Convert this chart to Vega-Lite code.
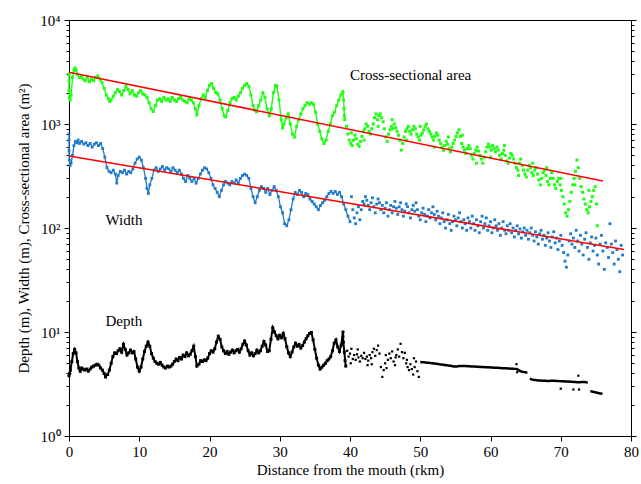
{
"$schema":"https://vega.github.io/schema/vega-lite/v6.json",
"width":562,"height":416,
"autosize":{"type":"none"},
"padding":{"left":69,"top":20,"right":10,"bottom":48},
"background":"white",
"config":{"font":"Liberation Serif","view":{"stroke":"black","strokeWidth":1},
"axis":{"grid":false,"domainColor":"black","tickColor":"black","labelColor":"black","titleColor":"black","labelFont":"Liberation Serif","titleFont":"Liberation Serif","labelFontSize":15,"titleFontSize":15,"titleFontWeight":"normal","domainWidth":1,"tickWidth":1}},
"datasets":{
"area":[{"x":0,"y":3000},{"x":0,"y":2600},{"x":0,"y":2100},{"x":0.1,"y":1800},{"x":0.15,"y":1700},{"x":0.3,"y":1900},{"x":0.5,"y":2800},{"x":0.7,"y":3300},{"x":0.85,"y":3450},{"x":1.0,"y":3300},{"x":1.2,"y":3000},{"x":1.5,"y":2800},{"x":1.8,"y":2900},{"x":2.0,"y":2700},{"x":2.3,"y":2600},{"x":2.6,"y":2800},{"x":2.9,"y":2550},{"x":3.2,"y":2700},{"x":3.5,"y":2600},{"x":3.8,"y":2800},{"x":4.1,"y":2900},{"x":4.4,"y":2700},{"x":4.7,"y":2500},{"x":5.0,"y":2200},{"x":5.3,"y":1900},{"x":5.6,"y":1750},{"x":5.8,"y":1650},{"x":6.0,"y":1700},{"x":6.3,"y":1850},{"x":6.6,"y":2000},{"x":6.9,"y":2150},{"x":7.2,"y":2050},{"x":7.5,"y":1900},{"x":7.8,"y":2100},{"x":8.1,"y":2300},{"x":8.4,"y":2150},{"x":8.7,"y":1950},{"x":9.0,"y":2100},{"x":9.3,"y":1900},{"x":9.6,"y":1850},{"x":9.9,"y":2000},{"x":10.2,"y":2100},{"x":10.5,"y":1950},{"x":10.8,"y":1900},{"x":11.1,"y":1800},{"x":11.4,"y":1600},{"x":11.7,"y":1400},{"x":12.0,"y":1320},{"x":12.3,"y":1500},{"x":12.6,"y":1700},{"x":12.9,"y":1750},{"x":13.2,"y":1650},{"x":13.5,"y":1800},{"x":13.8,"y":1700},{"x":14.1,"y":1750},{"x":14.4,"y":1650},{"x":14.7,"y":1800},{"x":15.0,"y":1700},{"x":15.3,"y":1650},{"x":15.6,"y":1750},{"x":15.9,"y":1800},{"x":16.2,"y":1700},{"x":16.5,"y":1650},{"x":16.8,"y":1600},{"x":17.1,"y":1750},{"x":17.4,"y":1700},{"x":17.7,"y":1600},{"x":18.0,"y":1400},{"x":18.2,"y":1220},{"x":18.5,"y":1500},{"x":18.8,"y":1750},{"x":19.1,"y":1900},{"x":19.4,"y":1800},{"x":19.7,"y":2100},{"x":20.0,"y":2350},{"x":20.3,"y":2450},{"x":20.6,"y":2200},{"x":20.9,"y":2000},{"x":21.2,"y":1950},{"x":21.5,"y":1700},{"x":21.8,"y":1400},{"x":22.1,"y":1200},{"x":22.3,"y":1170},{"x":22.6,"y":1350},{"x":22.9,"y":1600},{"x":23.2,"y":1750},{"x":23.5,"y":1800},{"x":23.8,"y":1700},{"x":24.1,"y":1850},{"x":24.4,"y":2000},{"x":24.7,"y":2200},{"x":25.0,"y":2350},{"x":25.3,"y":2450},{"x":25.6,"y":2300},{"x":25.9,"y":1900},{"x":26.2,"y":1500},{"x":26.5,"y":1350},{"x":26.7,"y":1310},{"x":27.0,"y":1500},{"x":27.3,"y":1700},{"x":27.6,"y":2000},{"x":27.9,"y":1800},{"x":28.2,"y":1400},{"x":28.5,"y":1200},{"x":28.8,"y":1400},{"x":29.1,"y":2000},{"x":29.4,"y":2350},{"x":29.6,"y":2300},{"x":29.9,"y":1700},{"x":30.2,"y":1100},{"x":30.4,"y":920},{"x":30.6,"y":1000},{"x":30.9,"y":1150},{"x":31.2,"y":1250},{"x":31.5,"y":1000},{"x":31.8,"y":800},{"x":32.1,"y":750},{"x":32.4,"y":950},{"x":32.7,"y":1100},{"x":33.0,"y":1250},{"x":33.3,"y":1400},{"x":33.6,"y":1500},{"x":33.9,"y":1600},{"x":34.2,"y":1550},{"x":34.5,"y":1600},{"x":34.8,"y":1550},{"x":35.1,"y":1300},{"x":35.4,"y":1000},{"x":35.7,"y":850},{"x":36.0,"y":720},{"x":36.3,"y":650},{"x":36.6,"y":700},{"x":36.9,"y":850},{"x":37.2,"y":1000},{"x":37.5,"y":1200},{"x":37.8,"y":1300},{"x":38.1,"y":1500},{"x":38.4,"y":1700},{"x":38.7,"y":1900},{"x":39.0,"y":2050},{"x":39.1,"y":1700},{"x":39.15,"y":1400},{"x":39.2,"y":1200},{"x":39.25,"y":1100},
{"x":39.5,"y":950},{"x":39.7,"y":800},{"x":39.9,"y":700},{"x":40.1,"y":650},{"x":40.3,"y":620},{"x":40.5,"y":700},{"x":40.7,"y":780},{"x":40.9,"y":720},{"x":41.1,"y":640},{"x":41.3,"y":610},{"x":41.5,"y":680},{"x":41.7,"y":760},{"x":41.9,"y":850},{"x":42.1,"y":900},{"x":42.3,"y":1000},{"x":42.5,"y":950},{"x":42.7,"y":850},{"x":42.9,"y":800},{"x":43.1,"y":900},{"x":43.3,"y":1000},{"x":43.5,"y":1150},{"x":43.7,"y":1250},{"x":43.9,"y":1100},{"x":44.1,"y":1200},{"x":44.3,"y":1250},{"x":44.5,"y":1150},{"x":44.7,"y":1050},{"x":44.9,"y":900},{"x":45.1,"y":750},{"x":45.3,"y":680},{"x":45.5,"y":800},{"x":45.7,"y":880},{"x":45.9,"y":950},{"x":46.1,"y":900},{"x":46.3,"y":1000},{"x":46.5,"y":920},{"x":46.7,"y":850},{"x":46.9,"y":780},{"x":47.1,"y":700},{"x":47.3,"y":560},{"x":47.5,"y":650},{"x":47.7,"y":750},{"x":47.9,"y":850},{"x":48.1,"y":900},{"x":48.3,"y":950},{"x":48.5,"y":850},{"x":48.7,"y":800},{"x":48.9,"y":880},{"x":49.1,"y":950},{"x":49.3,"y":900},{"x":49.5,"y":800},{"x":49.7,"y":750},{"x":49.9,"y":700},{"x":50.1,"y":780},{"x":50.3,"y":820},{"x":50.5,"y":880},{"x":50.7,"y":950},{"x":50.9,"y":1000},{"x":51.1,"y":900},{"x":51.3,"y":850},{"x":51.5,"y":800},{"x":51.7,"y":750},{"x":51.9,"y":700},{"x":52.1,"y":760},{"x":52.3,"y":820},{"x":52.5,"y":780},{"x":52.7,"y":700},{"x":52.9,"y":650},{"x":53.1,"y":600},{"x":53.3,"y":560},{"x":53.5,"y":620},{"x":53.7,"y":680},{"x":53.9,"y":640},{"x":54.1,"y":580},{"x":54.3,"y":540},{"x":54.5,"y":600},{"x":54.7,"y":650},{"x":54.9,"y":700},{"x":55.1,"y":760},{"x":55.3,"y":820},{"x":55.5,"y":880},{"x":55.7,"y":760},{"x":55.9,"y":650},{"x":56.1,"y":600},{"x":56.3,"y":560},{"x":56.5,"y":520},{"x":56.7,"y":580},{"x":56.9,"y":620},{"x":57.1,"y":580},{"x":57.3,"y":500},{"x":57.5,"y":460},{"x":57.7,"y":520},{"x":57.9,"y":560},{"x":58.1,"y":600},{"x":58.3,"y":550},{"x":58.5,"y":500},{"x":58.7,"y":460},{"x":58.9,"y":420},{"x":59.1,"y":480},{"x":59.3,"y":540},{"x":59.5,"y":600},{"x":59.7,"y":640},{"x":59.9,"y":600},{"x":60.1,"y":560},{"x":60.3,"y":620},{"x":60.5,"y":580},{"x":60.7,"y":540},{"x":60.9,"y":600},{"x":61.1,"y":560},{"x":61.3,"y":500},{"x":61.5,"y":460},{"x":61.7,"y":520},{"x":61.9,"y":560},{"x":62.1,"y":500},{"x":62.3,"y":440},{"x":62.5,"y":420},{"x":62.7,"y":470},{"x":62.9,"y":520},{"x":63.1,"y":500},{"x":63.3,"y":460},{"x":63.5,"y":420},{"x":63.7,"y":380},{"x":63.9,"y":360},{"x":64.1,"y":420},{"x":64.3,"y":460},{"x":64.5,"y":400},{"x":64.7,"y":360},{"x":64.9,"y":330},{"x":65.1,"y":310},{"x":65.3,"y":360},{"x":65.5,"y":400},{"x":65.7,"y":380},{"x":65.9,"y":340},{"x":66.1,"y":320},{"x":66.3,"y":360},{"x":66.5,"y":380},{"x":66.7,"y":330},{"x":66.9,"y":290},{"x":67.1,"y":260},{"x":67.3,"y":300},{"x":67.5,"y":340},{"x":67.7,"y":360},{"x":67.9,"y":320},{"x":68.1,"y":280},{"x":68.3,"y":260},{"x":68.5,"y":300},{"x":68.7,"y":340},{"x":68.9,"y":300},{"x":69.1,"y":260},{"x":69.3,"y":240},{"x":69.5,"y":280},{"x":69.7,"y":300},{"x":69.9,"y":260},{"x":70.1,"y":230},{"x":70.3,"y":200},{"x":70.5,"y":170},{"x":70.7,"y":140},{"x":70.9,"y":130},{"x":71.1,"y":150},{"x":71.3,"y":180},{"x":71.5,"y":220},{"x":71.7,"y":260},{"x":71.9,"y":300},{"x":72.1,"y":350},{"x":72.3,"y":450},{"x":72.5,"y":380},{"x":72.7,"y":300},{"x":72.9,"y":250},{"x":73.1,"y":220},{"x":73.3,"y":190},{"x":73.5,"y":170},{"x":73.7,"y":150},{"x":73.9,"y":140},{"x":74.1,"y":160},{"x":74.3,"y":180},{"x":74.5,"y":200},{"x":74.7,"y":230},{"x":74.9,"y":250},{"x":75.1,"y":170},{"x":75.2,"y":105},
{"x":40.2,"y":820},{"x":42.0,"y":700},{"x":44.0,"y":950},{"x":46.0,"y":1100},{"x":48.0,"y":700},{"x":50.0,"y":950},{"x":52.0,"y":600},{"x":54.0,"y":750},{"x":56.0,"y":780},{"x":58.0,"y":420},{"x":60.0,"y":480},{"x":62.0,"y":620},{"x":64.0,"y":320},{"x":66.0,"y":420},{"x":68.0,"y":380},{"x":70.0,"y":300},{"x":72.0,"y":260},{"x":74.0,"y":230}],
"width":[{"x":0,"y":800},{"x":0,"y":700},{"x":0,"y":550},{"x":0.05,"y":450},{"x":0.15,"y":400},{"x":0.3,"y":420},{"x":0.5,"y":500},{"x":0.7,"y":620},{"x":0.9,"y":680},{"x":1.1,"y":660},{"x":1.3,"y":700},{"x":1.5,"y":650},{"x":1.8,"y":680},{"x":2.1,"y":640},{"x":2.4,"y":660},{"x":2.7,"y":620},{"x":3.0,"y":650},{"x":3.3,"y":600},{"x":3.6,"y":640},{"x":3.9,"y":660},{"x":4.2,"y":620},{"x":4.5,"y":650},{"x":4.8,"y":580},{"x":5.1,"y":480},{"x":5.4,"y":380},{"x":5.7,"y":350},{"x":6.0,"y":340},{"x":6.3,"y":360},{"x":6.6,"y":330},{"x":6.8,"y":270},{"x":7.0,"y":320},{"x":7.3,"y":350},{"x":7.6,"y":340},{"x":7.9,"y":360},{"x":8.2,"y":330},{"x":8.5,"y":350},{"x":8.8,"y":340},{"x":9.1,"y":370},{"x":9.4,"y":420},{"x":9.7,"y":460},{"x":10.0,"y":480},{"x":10.3,"y":450},{"x":10.6,"y":380},{"x":10.9,"y":300},{"x":11.1,"y":240},{"x":11.3,"y":215},{"x":11.5,"y":260},{"x":11.8,"y":300},{"x":12.1,"y":360},{"x":12.4,"y":380},{"x":12.7,"y":350},{"x":13.0,"y":370},{"x":13.3,"y":390},{"x":13.6,"y":360},{"x":13.9,"y":380},{"x":14.2,"y":370},{"x":14.5,"y":350},{"x":14.8,"y":380},{"x":15.1,"y":360},{"x":15.4,"y":340},{"x":15.7,"y":360},{"x":16.0,"y":330},{"x":16.3,"y":300},{"x":16.6,"y":280},{"x":16.9,"y":320},{"x":17.2,"y":300},{"x":17.5,"y":280},{"x":17.8,"y":300},{"x":18.1,"y":270},{"x":18.4,"y":300},{"x":18.7,"y":330},{"x":19.0,"y":360},{"x":19.3,"y":380},{"x":19.6,"y":370},{"x":19.9,"y":340},{"x":20.2,"y":300},{"x":20.5,"y":260},{"x":20.8,"y":240},{"x":21.1,"y":220},{"x":21.4,"y":200},{"x":21.7,"y":230},{"x":22.0,"y":260},{"x":22.3,"y":280},{"x":22.6,"y":270},{"x":22.9,"y":260},{"x":23.2,"y":280},{"x":23.5,"y":270},{"x":23.8,"y":290},{"x":24.1,"y":270},{"x":24.4,"y":300},{"x":24.7,"y":320},{"x":25.0,"y":330},{"x":25.3,"y":320},{"x":25.6,"y":300},{"x":25.9,"y":240},{"x":26.2,"y":200},{"x":26.5,"y":175},{"x":26.8,"y":200},{"x":27.1,"y":230},{"x":27.4,"y":250},{"x":27.7,"y":240},{"x":28.0,"y":220},{"x":28.3,"y":240},{"x":28.6,"y":210},{"x":28.9,"y":230},{"x":29.2,"y":250},{"x":29.5,"y":230},{"x":29.8,"y":200},{"x":30.1,"y":160},{"x":30.4,"y":140},{"x":30.7,"y":110},{"x":31.0,"y":105},{"x":31.3,"y":120},{"x":31.6,"y":150},{"x":31.9,"y":190},{"x":32.2,"y":220},{"x":32.5,"y":210},{"x":32.8,"y":230},{"x":33.1,"y":220},{"x":33.4,"y":200},{"x":33.7,"y":215},{"x":34.0,"y":210},{"x":34.3,"y":190},{"x":34.6,"y":180},{"x":34.9,"y":170},{"x":35.2,"y":160},{"x":35.5,"y":150},{"x":35.8,"y":165},{"x":36.1,"y":175},{"x":36.4,"y":185},{"x":36.7,"y":200},{"x":37.0,"y":215},{"x":37.3,"y":225},{"x":37.6,"y":215},{"x":37.9,"y":225},{"x":38.2,"y":210},{"x":38.5,"y":220},{"x":38.8,"y":200},{"x":39.1,"y":170},{"x":39.4,"y":150},{"x":39.7,"y":130},{"x":40.0,"y":115},
{"x":40.2,"y":200},{"x":40.4,"y":150},{"x":40.6,"y":125},{"x":40.8,"y":110},{"x":41.0,"y":140},{"x":41.2,"y":160},{"x":41.4,"y":120},{"x":41.6,"y":150},{"x":41.8,"y":180},{"x":42.0,"y":170},{"x":42.2,"y":200},{"x":42.4,"y":185},{"x":42.6,"y":165},{"x":42.8,"y":150},{"x":43.0,"y":175},{"x":43.2,"y":195},{"x":43.4,"y":160},{"x":43.6,"y":140},{"x":43.8,"y":170},{"x":44.0,"y":190},{"x":44.2,"y":175},{"x":44.4,"y":150},{"x":44.6,"y":165},{"x":44.8,"y":140},{"x":45.0,"y":155},{"x":45.2,"y":175},{"x":45.4,"y":130},{"x":45.6,"y":150},{"x":45.8,"y":165},{"x":46.0,"y":140},{"x":46.2,"y":160},{"x":46.4,"y":180},{"x":46.6,"y":155},{"x":46.8,"y":135},{"x":47.0,"y":160},{"x":47.2,"y":175},{"x":47.4,"y":150},{"x":47.6,"y":130},{"x":47.8,"y":145},{"x":48.0,"y":170},{"x":48.2,"y":160},{"x":48.4,"y":140},{"x":48.6,"y":125},{"x":48.8,"y":150},{"x":49.0,"y":165},{"x":49.2,"y":145},{"x":49.4,"y":175},{"x":49.6,"y":150},{"x":49.8,"y":130},{"x":50.0,"y":120},{"x":50.2,"y":140},{"x":50.4,"y":155},{"x":50.6,"y":135},{"x":50.8,"y":115},{"x":51.0,"y":130},{"x":51.2,"y":150},{"x":51.4,"y":125},{"x":51.6,"y":140},{"x":51.8,"y":160},{"x":52.0,"y":135},{"x":52.2,"y":120},{"x":52.4,"y":145},{"x":52.6,"y":130},{"x":52.8,"y":110},{"x":53.0,"y":125},{"x":53.2,"y":140},{"x":53.4,"y":115},{"x":53.6,"y":100},{"x":53.8,"y":120},{"x":54.0,"y":135},{"x":54.2,"y":110},{"x":54.4,"y":95},{"x":54.6,"y":115},{"x":54.8,"y":130},{"x":55.0,"y":120},{"x":55.2,"y":105},{"x":55.4,"y":125},{"x":55.6,"y":140},{"x":55.8,"y":115},{"x":56.0,"y":100},{"x":56.2,"y":120},{"x":56.4,"y":110},{"x":56.6,"y":95},{"x":56.8,"y":125},{"x":57.0,"y":115},{"x":57.2,"y":100},{"x":57.4,"y":130},{"x":57.6,"y":110},{"x":57.8,"y":95},{"x":58.0,"y":120},{"x":58.2,"y":105},{"x":58.4,"y":90},{"x":58.6,"y":115},{"x":58.8,"y":130},{"x":59.0,"y":100},{"x":59.2,"y":110},{"x":59.4,"y":125},{"x":59.6,"y":95},{"x":59.8,"y":105},{"x":60.0,"y":115},{"x":60.2,"y":90},{"x":60.4,"y":100},{"x":60.6,"y":120},{"x":60.8,"y":105},{"x":61.0,"y":95},{"x":61.2,"y":110},{"x":61.4,"y":85},{"x":61.6,"y":100},{"x":61.8,"y":115},{"x":62.0,"y":95},{"x":62.2,"y":88},{"x":62.4,"y":105},{"x":62.6,"y":95},{"x":62.8,"y":110},{"x":63.0,"y":90},{"x":63.2,"y":100},{"x":63.4,"y":82},{"x":63.6,"y":95},{"x":63.8,"y":105},{"x":64.0,"y":88},{"x":64.2,"y":98},{"x":64.4,"y":80},{"x":64.6,"y":92},{"x":64.8,"y":100},{"x":65.0,"y":85},{"x":65.2,"y":95},{"x":65.4,"y":78},{"x":65.6,"y":90},{"x":65.8,"y":100},{"x":66.0,"y":85},{"x":66.2,"y":75},{"x":66.4,"y":92},{"x":66.6,"y":82},{"x":66.8,"y":70},{"x":67.0,"y":88},{"x":67.2,"y":95},{"x":67.4,"y":78},{"x":67.6,"y":85},{"x":67.8,"y":68},{"x":68.0,"y":80},{"x":68.2,"y":90},{"x":68.4,"y":75},{"x":68.6,"y":65},{"x":68.8,"y":82},{"x":69.0,"y":92},{"x":69.2,"y":72},{"x":69.4,"y":80},{"x":69.6,"y":62},{"x":69.8,"y":75},{"x":70.0,"y":85},{"x":70.2,"y":68},{"x":70.4,"y":58},{"x":70.6,"y":48},{"x":70.8,"y":42},{"x":71.0,"y":55},{"x":71.2,"y":75},{"x":71.4,"y":88},{"x":71.6,"y":70},{"x":71.8,"y":80},{"x":72.0,"y":65},{"x":72.2,"y":95},{"x":72.4,"y":75},{"x":72.6,"y":60},{"x":72.8,"y":85},{"x":73.0,"y":70},{"x":73.2,"y":55},{"x":73.4,"y":78},{"x":73.6,"y":90},{"x":73.8,"y":65},{"x":74.0,"y":50},{"x":74.2,"y":72},{"x":74.4,"y":82},{"x":74.6,"y":60},{"x":74.8,"y":68},{"x":75.0,"y":80},{"x":75.2,"y":55},{"x":75.4,"y":45},{"x":75.6,"y":70},{"x":75.8,"y":85},{"x":76.0,"y":60},{"x":76.2,"y":40},{"x":76.4,"y":72},{"x":76.6,"y":65},{"x":76.8,"y":52},{"x":77.0,"y":110},{"x":77.2,"y":70},{"x":77.4,"y":58},{"x":77.6,"y":45},{"x":77.8,"y":75},{"x":78.0,"y":62},{"x":78.2,"y":50},{"x":78.4,"y":38},{"x":78.6,"y":68},{"x":78.8,"y":55}],
"depth":[{"x":0,"y":3.8},{"x":0.1,"y":4.0},{"x":0.2,"y":4.3},{"x":0.4,"y":5.2},{"x":0.6,"y":6.2},{"x":0.8,"y":6.8},{"x":1.0,"y":6.3},{"x":1.2,"y":5.2},{"x":1.4,"y":4.5},{"x":1.6,"y":4.2},{"x":1.8,"y":4.5},{"x":2.0,"y":4.4},{"x":2.25,"y":4.3},{"x":2.5,"y":4.4},{"x":2.75,"y":4.2},{"x":3.0,"y":4.4},{"x":3.25,"y":4.6},{"x":3.5,"y":4.7},{"x":3.75,"y":4.8},{"x":4.0,"y":4.9},{"x":4.25,"y":4.8},{"x":4.5,"y":4.5},{"x":4.75,"y":4.3},{"x":5.0,"y":4.0},{"x":5.2,"y":3.7},{"x":5.5,"y":3.9},{"x":5.75,"y":4.3},{"x":6.0,"y":5.0},{"x":6.25,"y":5.8},{"x":6.5,"y":6.3},{"x":6.75,"y":6.2},{"x":7.0,"y":6.6},{"x":7.25,"y":6.9},{"x":7.5,"y":6.4},{"x":7.75,"y":7.6},{"x":8.0,"y":6.8},{"x":8.25,"y":6.0},{"x":8.5,"y":6.3},{"x":8.75,"y":6.7},{"x":9.0,"y":6.3},{"x":9.25,"y":6.5},{"x":9.5,"y":5.5},{"x":9.75,"y":4.6},{"x":10.0,"y":4.2},{"x":10.25,"y":4.6},{"x":10.5,"y":5.5},{"x":10.75,"y":6.5},{"x":11.0,"y":7.3},{"x":11.25,"y":8.0},{"x":11.5,"y":7.3},{"x":11.75,"y":6.2},{"x":12.0,"y":5.6},{"x":12.25,"y":5.2},{"x":12.5,"y":5.0},{"x":12.75,"y":4.9},{"x":13.0,"y":5.1},{"x":13.25,"y":4.8},{"x":13.5,"y":4.6},{"x":13.75,"y":4.5},{"x":14.0,"y":4.7},{"x":14.25,"y":4.6},{"x":14.5,"y":4.7},{"x":14.75,"y":4.9},{"x":15.0,"y":5.2},{"x":15.25,"y":5.5},{"x":15.5,"y":5.3},{"x":15.75,"y":5.7},{"x":16.0,"y":5.5},{"x":16.25,"y":6.0},{"x":16.5,"y":5.8},{"x":16.75,"y":6.3},{"x":17.0,"y":5.9},{"x":17.25,"y":6.1},{"x":17.5,"y":6.6},{"x":17.75,"y":7.3},{"x":18.0,"y":5.8},{"x":18.2,"y":4.7},{"x":18.5,"y":4.9},{"x":18.75,"y":5.3},{"x":19.0,"y":5.2},{"x":19.25,"y":5.4},{"x":19.5,"y":5.3},{"x":19.75,"y":5.6},{"x":20.0,"y":6.2},{"x":20.25,"y":6.6},{"x":20.5,"y":6.4},{"x":20.75,"y":6.9},{"x":21.0,"y":8.0},{"x":21.25,"y":9.1},{"x":21.5,"y":8.5},{"x":21.75,"y":7.2},{"x":22.0,"y":6.6},{"x":22.25,"y":6.2},{"x":22.5,"y":6.5},{"x":22.75,"y":6.1},{"x":23.0,"y":6.4},{"x":23.25,"y":6.7},{"x":23.5,"y":6.3},{"x":23.75,"y":6.6},{"x":24.0,"y":6.8},{"x":24.25,"y":6.4},{"x":24.5,"y":6.9},{"x":24.75,"y":7.6},{"x":25.0,"y":8.2},{"x":25.25,"y":7.5},{"x":25.5,"y":6.6},{"x":25.75,"y":6.0},{"x":26.0,"y":6.3},{"x":26.25,"y":5.9},{"x":26.5,"y":6.2},{"x":26.75,"y":6.7},{"x":27.0,"y":6.3},{"x":27.25,"y":6.6},{"x":27.5,"y":7.3},{"x":27.75,"y":8.1},{"x":28.0,"y":7.5},{"x":28.25,"y":6.5},{"x":28.5,"y":6.6},{"x":28.75,"y":8.5},{"x":29.0,"y":11.0},{"x":29.25,"y":10.0},{"x":29.5,"y":9.2},{"x":29.75,"y":8.6},{"x":30.0,"y":9.3},{"x":30.25,"y":8.8},{"x":30.5,"y":9.7},{"x":30.75,"y":8.6},{"x":31.0,"y":7.2},{"x":31.25,"y":6.3},{"x":31.5,"y":5.8},{"x":31.75,"y":6.4},{"x":32.0,"y":7.2},{"x":32.25,"y":7.8},{"x":32.5,"y":7.3},{"x":32.75,"y":7.6},{"x":33.0,"y":7.0},{"x":33.25,"y":7.4},{"x":33.5,"y":8.0},{"x":33.75,"y":8.6},{"x":34.0,"y":9.2},{"x":34.25,"y":9.7},{"x":34.5,"y":9.9},{"x":34.75,"y":8.4},{"x":35.0,"y":6.8},{"x":35.25,"y":5.6},{"x":35.5,"y":4.8},{"x":35.75,"y":4.4},{"x":36.0,"y":4.6},{"x":36.25,"y":4.8},{"x":36.5,"y":5.0},{"x":36.75,"y":5.3},{"x":37.0,"y":5.5},{"x":37.25,"y":5.8},{"x":37.5,"y":6.6},{"x":37.75,"y":7.8},{"x":38.0,"y":8.4},{"x":38.25,"y":7.2},{"x":38.5,"y":6.5},{"x":38.75,"y":7.5},{"x":39.0,"y":10.0},{"x":39.0,"y":9.0},{"x":39.05,"y":8.0},{"x":39.2,"y":6.4},{"x":39.3,"y":5.3},{"x":39.4,"y":4.7},
{"x":50.0,"y":5.15},{"x":50.25,"y":5.13},{"x":50.5,"y":5.11},{"x":50.75,"y":5.09},{"x":51.0,"y":5.07},{"x":51.25,"y":5.05},{"x":51.5,"y":5.02},{"x":51.75,"y":5.0},{"x":52.0,"y":4.98},{"x":52.25,"y":4.96},{"x":52.5,"y":4.93},{"x":52.75,"y":4.9},{"x":53.0,"y":4.88},{"x":53.25,"y":4.85},{"x":53.5,"y":4.82},{"x":53.75,"y":4.79},{"x":54.0,"y":4.76},{"x":54.25,"y":4.73},{"x":54.5,"y":4.7},{"x":54.75,"y":4.67},{"x":55.0,"y":4.65},{"x":55.25,"y":4.66},{"x":55.5,"y":4.7},{"x":55.75,"y":4.72},{"x":56.0,"y":4.72},{"x":56.25,"y":4.71},{"x":56.5,"y":4.7},{"x":56.75,"y":4.69},{"x":57.0,"y":4.68},{"x":57.25,"y":4.67},{"x":57.5,"y":4.66},{"x":57.75,"y":4.65},{"x":58.0,"y":4.64},{"x":58.25,"y":4.63},{"x":58.5,"y":4.62},{"x":58.75,"y":4.61},{"x":59.0,"y":4.6},{"x":59.25,"y":4.59},{"x":59.5,"y":4.58},{"x":59.75,"y":4.57},{"x":60.0,"y":4.56},{"x":60.25,"y":4.55},{"x":60.5,"y":4.54},{"x":60.75,"y":4.53},{"x":61.0,"y":4.52},{"x":61.25,"y":4.51},{"x":61.5,"y":4.5},{"x":61.75,"y":4.49},{"x":62.0,"y":4.48},{"x":62.25,"y":4.47},{"x":62.5,"y":4.46},{"x":62.75,"y":4.45},{"x":63.0,"y":4.44},{"x":63.25,"y":4.43},{"x":63.5,"y":4.42},{"x":63.75,"y":4.4},{"x":64.0,"y":4.3},{"x":64.25,"y":4.2},{"x":64.5,"y":4.15},{"x":64.75,"y":4.12},{"x":65.0,"y":4.1},{"x":65.25,"y":4.05},
{"x":65.6,"y":3.55},{"x":65.85,"y":3.5},{"x":66.1,"y":3.47},{"x":66.35,"y":3.45},{"x":66.6,"y":3.43},{"x":66.85,"y":3.42},{"x":67.1,"y":3.41},{"x":67.35,"y":3.4},{"x":67.6,"y":3.4},{"x":67.85,"y":3.39},{"x":68.1,"y":3.38},{"x":68.35,"y":3.38},{"x":68.6,"y":3.4},{"x":68.85,"y":3.4},{"x":69.1,"y":3.39},{"x":69.35,"y":3.38},{"x":69.6,"y":3.38},{"x":69.85,"y":3.37},{"x":70.1,"y":3.36},{"x":70.35,"y":3.36},{"x":70.6,"y":3.35},{"x":70.85,"y":3.34},{"x":71.1,"y":3.34},{"x":71.35,"y":3.33},{"x":71.6,"y":3.32},{"x":71.85,"y":3.31},{"x":72.1,"y":3.3},{"x":72.35,"y":3.29},{"x":72.6,"y":3.28},{"x":73.1,"y":3.3},{"x":73.35,"y":3.3},{"x":73.6,"y":3.28},{"x":73.85,"y":3.27},
{"x":74.2,"y":2.7},{"x":74.45,"y":2.68},{"x":74.7,"y":2.65},{"x":74.95,"y":2.63},{"x":75.2,"y":2.6},{"x":75.45,"y":2.58},{"x":75.7,"y":2.56},{"x":75.95,"y":2.54}],
"depthscatter":[{"x":39.6,"y":6.6},{"x":39.8,"y":5.8},{"x":40.0,"y":6.2},{"x":40.2,"y":6.9},{"x":40.4,"y":5.5},{"x":40.6,"y":6.0},{"x":40.8,"y":5.4},{"x":41.0,"y":6.1},{"x":41.2,"y":5.7},{"x":41.4,"y":5.2},{"x":41.6,"y":5.9},{"x":41.8,"y":5.6},{"x":42.0,"y":6.3},{"x":42.2,"y":5.5},{"x":42.4,"y":5.8},{"x":42.6,"y":5.3},{"x":42.8,"y":6.0},{"x":43.0,"y":5.6},{"x":43.2,"y":6.4},{"x":43.4,"y":6.9},{"x":43.6,"y":5.9},{"x":43.8,"y":6.7},{"x":44.0,"y":7.4},{"x":44.2,"y":6.2},{"x":44.4,"y":4.6},{"x":44.6,"y":3.7},{"x":44.8,"y":4.3},{"x":45.0,"y":5.0},{"x":45.2,"y":4.5},{"x":45.4,"y":5.4},{"x":45.6,"y":6.2},{"x":45.8,"y":5.6},{"x":46.0,"y":6.5},{"x":46.2,"y":5.2},{"x":46.4,"y":4.8},{"x":46.6,"y":6.0},{"x":46.8,"y":6.8},{"x":47.0,"y":5.8},{"x":47.2,"y":7.7},{"x":47.4,"y":6.4},{"x":47.6,"y":5.6},{"x":47.8,"y":6.3},{"x":48.0,"y":5.0},{"x":48.2,"y":4.6},{"x":48.4,"y":4.3},{"x":48.6,"y":4.9},{"x":48.8,"y":4.4},{"x":49.0,"y":3.9},{"x":49.2,"y":4.6},{"x":49.4,"y":5.2},{"x":49.6,"y":4.2},{"x":49.8,"y":3.7},{"x":40.1,"y":5.0},{"x":41.1,"y":6.8},{"x":42.5,"y":4.8},{"x":43.1,"y":4.9},{"x":45.1,"y":6.0},{"x":46.5,"y":5.7},{"x":48.1,"y":5.4},{"x":49.1,"y":5.6},{"x":63.7,"y":4.9},{"x":63.8,"y":4.1},{"x":70.0,"y":2.85},{"x":71.8,"y":2.8},{"x":72.5,"y":3.8},{"x":72.6,"y":2.8}],
"fits":[{"fit":"area","x":0,"y":3140},{"fit":"area","x":76,"y":283},{"fit":"width","x":0,"y":492},{"fit":"width","x":79,"y":62}],
"labels":[{"label":"Cross-sectional area","x":40,"y":2960},{"label":"Width","x":5.2,"y":119},{"label":"Depth","x":5.2,"y":12.8}]
},
"encoding":{"x":{"field":"x","type":"quantitative","scale":{"domain":[0,80],"nice":false,"zero":false},
"axis":{"title":"Distance from the mouth (rkm)","values":[0,10,20,30,40,50,60,70,80],"tickSize":5,"labelPadding":3,"titlePadding":3,"labelFlush":false}}},
"layer":[
{"data":{"name":"area"},"transform":[{"filter":"datum.x <= 39.3"}],"mark":{"type":"line","color":"#1cff10","strokeWidth":1.4},
"encoding":{"y":{"field":"y","type":"quantitative","scale":{"type":"log","domain":[1,10000],"nice":false},
"axis":{"orient":"left","title":"Depth (m), Width (m), Cross-sectional area (m²)","titleFontSize":15,"titlePadding":8,
"values":[1,2,3,4,5,6,7,8,9,10,20,30,40,50,60,70,80,90,100,200,300,400,500,600,700,800,900,1000,2000,3000,4000,5000,6000,7000,8000,9000,10000],
"labelExpr":"datum.value==1?'10⁰':datum.value==10?'10¹':datum.value==100?'10²':datum.value==1000?'10³':datum.value==10000?'10⁴':''",
"tickSize":{"condition":{"test":"indexof([1,10,100,1000,10000], datum.value) >= 0","value":5},"value":3},
"labelPadding":4}}}},
{"data":{"name":"area"},"mark":{"type":"point","shape":"square","filled":true,"size":9,"color":"#1cff10","opacity":1},
"encoding":{"y":{"field":"y","type":"quantitative","scale":{"type":"log","domain":[1,10000],"nice":false},"axis":null}}},
{"data":{"name":"width"},"transform":[{"filter":"datum.x <= 40.05"}],"mark":{"type":"line","color":"#1f7bc8","strokeWidth":1.3},
"encoding":{"y":{"field":"y","type":"quantitative","scale":{"type":"log","domain":[1,10000],"nice":false},"axis":null}}},
{"data":{"name":"width"},"mark":{"type":"point","shape":"square","filled":true,"size":8,"color":"#1f7bc8","opacity":1},
"encoding":{"y":{"field":"y","type":"quantitative","scale":{"type":"log","domain":[1,10000],"nice":false},"axis":null}}},
{"data":{"name":"depth"},"transform":[{"filter":"datum.x <= 39.45"}],"mark":{"type":"line","color":"black","strokeWidth":2},
"encoding":{"y":{"field":"y","type":"quantitative","scale":{"type":"log","domain":[1,10000],"nice":false},"axis":null}}},
{"data":{"name":"depth"},"transform":[{"filter":"datum.x >= 50 && datum.x <= 65.3"}],"mark":{"type":"line","color":"black","strokeWidth":2.5},
"encoding":{"y":{"field":"y","type":"quantitative","scale":{"type":"log","domain":[1,10000],"nice":false},"axis":null}}},
{"data":{"name":"depth"},"transform":[{"filter":"datum.x >= 65.5 && datum.x <= 73.9"}],"mark":{"type":"line","color":"black","strokeWidth":2.5},
"encoding":{"y":{"field":"y","type":"quantitative","scale":{"type":"log","domain":[1,10000],"nice":false},"axis":null}}},
{"data":{"name":"depth"},"transform":[{"filter":"datum.x >= 74.1"}],"mark":{"type":"line","color":"black","strokeWidth":2.5},
"encoding":{"y":{"field":"y","type":"quantitative","scale":{"type":"log","domain":[1,10000],"nice":false},"axis":null}}},
{"data":{"name":"depth"},"transform":[{"filter":"datum.x <= 39.45"}],"mark":{"type":"point","shape":"square","filled":true,"size":9,"color":"black","opacity":1},
"encoding":{"y":{"field":"y","type":"quantitative","scale":{"type":"log","domain":[1,10000],"nice":false},"axis":null}}},
{"data":{"name":"depthscatter"},"mark":{"type":"point","shape":"square","filled":true,"size":5,"color":"black","opacity":1},
"encoding":{"y":{"field":"y","type":"quantitative","scale":{"type":"log","domain":[1,10000],"nice":false},"axis":null}}},
{"data":{"name":"labels"},"mark":{"type":"text","align":"left","baseline":"middle","font":"Liberation Serif","fontSize":15,"color":"black"},
"encoding":{"text":{"field":"label"},"y":{"field":"y","type":"quantitative","scale":{"type":"log","domain":[1,10000],"nice":false},"axis":null}}},
{"data":{"name":"fits"},"mark":{"type":"line","color":"#ff0000","strokeWidth":1.5},
"encoding":{"detail":{"field":"fit"},"y":{"field":"y","type":"quantitative","scale":{"type":"log","domain":[1,10000],"nice":false},
"axis":{"orient":"right","title":null,"labels":false,
"values":[1,2,3,4,5,6,7,8,9,10,20,30,40,50,60,70,80,90,100,200,300,400,500,600,700,800,900,1000,2000,3000,4000,5000,6000,7000,8000,9000,10000],
"tickSize":{"condition":{"test":"indexof([1,10,100,1000,10000], datum.value) >= 0","value":5},"value":3}}}}}
],
"resolve":{"axis":{"y":"independent"}}
}
